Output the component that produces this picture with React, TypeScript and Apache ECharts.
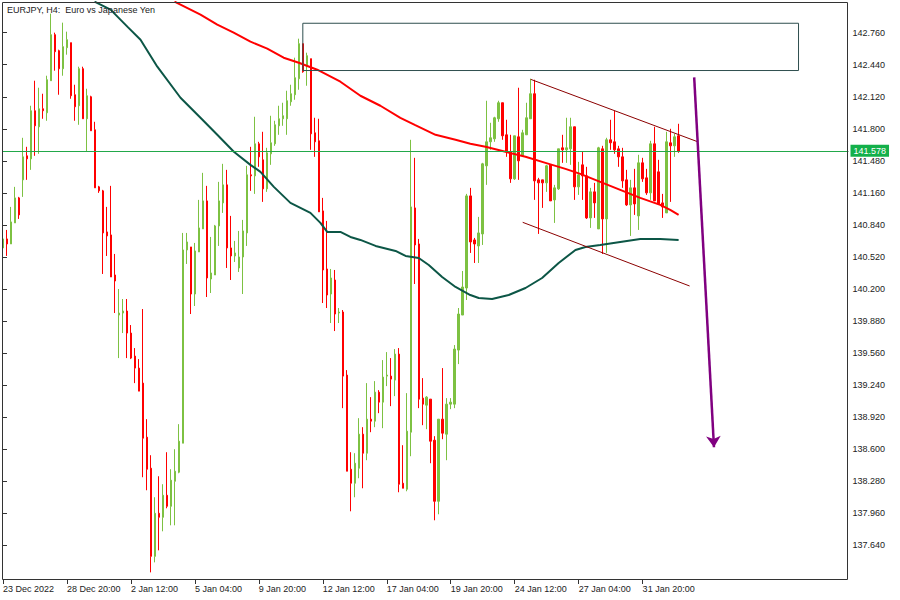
import React, { useEffect, useRef } from "react";
import * as echarts from "echarts";

// ---------- data ----------
const tickLabels = [
  "23 Dec 2022", "28 Dec 20:00", "2 Jan 12:00", "5 Jan 04:00", "9 Jan 20:00",
  "12 Jan 12:00", "17 Jan 04:00", "19 Jan 20:00", "24 Jan 12:00", "27 Jan 04:00", "31 Jan 20:00",
];
const LABEL_STEP = 16;
const SLOT_COUNT = 212;

const yTicks = [
  137.64, 137.96, 138.28, 138.6, 138.92, 139.24, 139.56, 139.88, 140.2,
  140.52, 140.84, 141.16, 141.48, 141.8, 142.12, 142.44, 142.76,
];
const Y_MIN = 137.3037;
const Y_MAX = 143.0663;

const opens = [
  140.61, 140.70, 140.65, 140.86, 141.11, 141.29, 141.53, 141.50, 141.98, 141.82,
  142.00, 141.96, 142.28, 142.74, 142.58, 142.40, 142.61, 142.66, 142.14, 142.03,
  142.40, 141.90, 142.12, 141.79, 141.22, 141.18, 140.77, 140.74, 140.34, 139.94,
  139.96, 139.98, 139.76, 139.53, 139.41, 139.26, 138.72, 138.41, 137.53, 137.96,
  137.92, 138.14, 138.03, 138.28, 138.37, 138.66, 140.59, 140.62, 140.15, 140.57,
  140.80, 141.08, 140.30, 140.34, 140.83, 141.06, 141.24, 140.61, 140.53, 140.41,
  140.52, 140.76, 141.34, 141.33, 141.65, 141.49, 141.20, 141.55, 141.65, 141.83,
  141.90, 141.90, 142.07, 142.14, 142.30, 142.65, 142.42, 142.50, 141.76, 141.68,
  140.98, 140.40, 140.15, 140.29, 139.96, 139.97, 139.34, 138.40, 138.26, 138.41,
  138.75, 138.56, 138.90, 138.88, 139.17, 139.07, 139.33, 139.33, 139.29, 139.55,
  138.26, 138.20, 138.77, 141.01, 140.65, 139.11, 139.04, 139.10, 138.69, 138.08,
  138.90, 138.75, 139.05, 139.05, 139.59, 139.94, 140.21, 141.13, 140.69, 140.63,
  140.75, 141.43, 141.67, 141.70, 141.90, 142.06, 141.74, 141.57, 141.30, 141.72,
  141.53, 141.74, 141.90, 142.15, 141.29, 141.29, 141.26, 141.44, 141.09, 141.20,
  141.61, 141.59, 141.60, 141.82, 141.22, 141.44, 141.33, 140.91, 141.17, 140.80,
  141.60, 140.90, 141.69, 141.67, 141.60, 141.52, 141.29, 141.04, 141.21, 140.93,
  141.46, 141.31, 141.16, 141.65, 141.37, 141.06, 140.96, 141.66, 141.63, 141.73,
];
const closes = [
  140.70, 140.65, 140.87, 141.11, 140.94, 141.52, 141.50, 141.98, 141.83, 142.00,
  141.98, 142.29, 142.74, 142.57, 142.40, 142.62, 142.69, 142.13, 142.02, 142.40,
  141.90, 142.13, 141.78, 141.21, 141.18, 140.76, 140.73, 140.32, 140.28, 139.96,
  139.98, 139.76, 139.51, 139.41, 139.18, 138.71, 138.40, 137.53, 137.96, 137.92,
  138.14, 138.03, 138.29, 138.38, 138.68, 140.59, 140.67, 140.15, 140.58, 140.81,
  141.08, 140.31, 140.36, 140.83, 141.08, 141.24, 140.61, 140.53, 140.56, 140.52,
  140.78, 141.34, 141.33, 141.65, 141.52, 141.20, 141.56, 141.66, 141.84, 141.90,
  141.93, 142.08, 142.15, 142.31, 142.65, 142.37, 142.53, 141.75, 141.67, 140.97,
  140.39, 140.14, 140.31, 139.95, 139.97, 139.33, 138.38, 138.26, 138.46, 138.75,
  138.56, 138.90, 138.88, 139.17, 139.07, 139.32, 139.34, 139.30, 139.55, 138.25,
  138.21, 138.78, 141.02, 140.64, 139.10, 139.05, 139.12, 138.68, 138.08, 138.90,
  138.76, 139.05, 139.07, 139.60, 139.95, 140.22, 141.13, 140.67, 140.65, 140.76,
  141.45, 141.67, 141.71, 141.91, 142.06, 141.73, 141.57, 141.30, 141.73, 141.48,
  141.76, 141.91, 142.15, 141.28, 141.26, 141.26, 141.43, 141.08, 141.21, 141.60,
  141.59, 141.61, 141.82, 141.22, 141.34, 141.33, 140.91, 141.17, 141.06, 141.61,
  140.90, 141.69, 141.66, 141.59, 141.52, 141.28, 141.04, 141.21, 141.05, 141.46,
  141.30, 141.16, 141.65, 141.08, 141.05, 141.02, 141.67, 141.63, 141.72, 141.578,
];
const lows = [
  140.60, 140.53, 140.65, 140.86, 140.90, 141.12, 141.29, 141.39, 141.53, 141.55,
  141.90, 141.88, 142.28, 142.38, 142.14, 142.33, 142.54, 142.10, 141.88, 141.84,
  141.90, 141.57, 141.78, 141.21, 141.16, 140.35, 140.53, 140.32, 139.96, 139.51,
  139.76, 139.51, 139.50, 139.26, 139.18, 138.32, 138.19, 137.37, 137.47, 137.59,
  137.78, 138.01, 137.84, 137.84, 138.36, 138.66, 140.45, 139.95, 140.03, 140.57,
  140.80, 140.12, 140.16, 140.34, 140.63, 140.96, 140.41, 140.29, 140.47, 140.37,
  140.15, 140.63, 141.18, 141.15, 141.42, 141.07, 141.17, 141.44, 141.63, 141.74,
  141.83, 141.74, 142.03, 142.09, 142.19, 142.36, 142.23, 141.59, 141.52, 140.97,
  140.06, 140.01, 139.86, 139.78, 139.86, 139.01, 138.38, 137.98, 138.12, 138.31,
  138.21, 138.49, 138.77, 138.82, 138.96, 138.81, 139.23, 139.03, 139.13, 138.17,
  138.21, 138.18, 138.53, 140.25, 139.01, 138.84, 138.80, 138.46, 137.89, 137.95,
  138.70, 138.49, 139.00, 139.01, 139.45, 139.94, 140.09, 140.56, 140.46, 140.46,
  140.64, 141.24, 141.59, 141.67, 141.87, 141.69, 141.52, 141.26, 141.29, 141.29,
  141.52, 141.74, 141.90, 141.09, 140.75, 141.01, 141.17, 141.08, 140.86, 141.19,
  141.46, 141.46, 141.44, 141.09, 141.14, 141.09, 140.90, 140.81, 140.91, 140.80,
  140.55, 140.56, 141.59, 141.55, 141.42, 141.21, 141.03, 140.73, 140.94, 140.79,
  141.27, 141.14, 141.09, 141.08, 141.04, 140.91, 140.96, 141.07, 141.52, 141.56,
];
const highs = [
  140.71, 140.79, 141.02, 141.22, 141.12, 141.71, 141.62, 142.03, 142.28, 142.21,
  142.15, 142.33, 142.95, 142.76, 142.59, 142.86, 142.77, 142.66, 142.24, 142.42,
  142.42, 142.20, 142.13, 141.87, 141.23, 141.19, 141.02, 141.23, 140.55, 140.20,
  140.10, 140.10, 139.84, 139.61, 139.50, 140.00, 138.90, 138.54, 138.12, 138.33,
  138.25, 138.57, 138.40, 138.60, 138.85, 140.76, 140.76, 140.62, 140.66, 141.09,
  141.36, 141.23, 140.72, 140.84, 141.27, 141.45, 141.39, 140.93, 140.68, 140.78,
  140.89, 141.43, 141.62, 141.92, 141.67, 141.77, 141.61, 141.93, 141.88, 142.03,
  142.06, 142.18, 142.24, 142.51, 142.70, 142.65, 142.56, 142.50, 141.91, 141.90,
  141.11, 140.88, 140.40, 140.39, 140.01, 139.99, 139.39, 138.57, 138.56, 138.91,
  138.82, 139.26, 139.12, 139.28, 139.19, 139.49, 139.57, 139.51, 139.60, 139.61,
  138.64, 139.16, 141.69, 141.51, 140.70, 139.31, 139.13, 139.10, 138.73, 138.90,
  139.41, 139.11, 139.11, 139.64, 140.01, 140.38, 141.15, 141.21, 140.71, 140.92,
  141.46, 142.08, 141.86, 141.92, 142.08, 142.06, 141.89, 141.74, 141.73, 142.21,
  141.79, 142.06, 142.30, 142.29, 141.31, 141.29, 141.44, 141.44, 141.24, 141.60,
  141.74, 141.91, 141.91, 141.82, 141.47, 141.57, 141.42, 141.21, 141.26, 141.62,
  141.63, 141.71, 141.89, 141.98, 141.63, 141.61, 141.39, 141.29, 141.40, 141.54,
  141.51, 141.40, 141.68, 141.82, 141.49, 141.15, 141.77, 141.80, 141.75, 141.85,
];

// moving averages: [bar index, price]
const redMA = [
  [42.9, 143.07], [49.4, 142.94], [53.6, 142.84], [57.7, 142.76], [61.9, 142.67],
  [66.1, 142.6], [70.2, 142.51], [74.0, 142.46], [78.6, 142.39], [84.4, 142.27],
  [89.4, 142.13], [94.4, 142.03], [99.4, 141.91], [103.0, 141.84], [108.2, 141.74],
  [113.2, 141.69], [116.9, 141.65], [120.7, 141.62], [125.7, 141.57], [130.7, 141.52],
  [135.7, 141.46], [140.7, 141.4], [144.4, 141.35], [149.4, 141.27], [154.4, 141.19],
  [159.4, 141.11], [164.4, 141.04], [166.9, 140.99], [169.0, 140.94],
];
const greenMA = [
  [22.9, 143.07], [26.9, 142.99], [31.1, 142.82], [34.4, 142.69], [38.6, 142.42],
  [44.4, 142.11], [49.4, 141.91], [53.6, 141.74], [57.75, 141.57], [61.9, 141.44],
  [64.4, 141.37], [67.75, 141.22], [71.9, 141.06], [74.4, 141.01], [76.9, 140.96],
  [79.4, 140.86], [81.1, 140.77], [84.4, 140.77], [86.9, 140.72], [89.4, 140.69],
  [93.2, 140.63], [98.2, 140.58], [100.7, 140.53], [104.0, 140.51], [106.5, 140.44],
  [109.85, 140.32], [113.2, 140.22], [116.9, 140.14], [119.0, 140.11], [122.35, 140.1],
  [126.5, 140.14], [130.7, 140.21], [134.85, 140.31], [139.0, 140.46], [143.2, 140.59],
  [145.7, 140.62], [149.4, 140.64], [154.4, 140.67], [159.4, 140.7], [164.4, 140.7],
  [169.0, 140.69],
];

const channelUpper = [[132, 142.294], [173.75, 141.671]];
const channelLower = [[130, 140.866], [171.75, 140.23]];
const zoneBox = [[75, 142.854], [199, 142.854], [199, 142.382], [75, 142.382], [75, 142.854]];
const arrowFrom = [172.9, 142.314];
const arrowTo = [177.85, 138.62];
const currentPrice = 141.578;
const titleText = "EURJPY, H4:  Euro vs Japanese Yen";

const FONT = "'Liberation Sans', Arial, sans-serif";

export default function App() {
  const ref = useRef<HTMLDivElement>(null);

  useEffect(() => {
    if (!ref.current) return;
    const chart = echarts.init(ref.current, null, { renderer: "svg" });

    const categories = Array.from({ length: SLOT_COUNT }, (_, i) => String(i));
    const candles = opens.map((o, i) => [o, closes[i], lows[i], highs[i]]);

    const option: any = {
      animation: false,
      backgroundColor: "#ffffff",
      textStyle: { fontFamily: FONT },
      grid: { left: 0.5, top: 2, width: 848, height: 577, containLabel: false },
      xAxis: [
        {
          type: "category",
          data: categories,
          boundaryGap: true,
          axisLine: { show: false },
          axisTick: {
            show: true,
            alignWithLabel: true,
            length: 5,
            interval: (i: number) => i % LABEL_STEP === 0 && i / LABEL_STEP < tickLabels.length,
            lineStyle: { color: "#333" },
          },
          axisLabel: {
            interval: 0,
            align: "left",
            margin: 5,
            fontSize: 9,
            color: "#222",
            fontFamily: FONT,
            formatter: (_v: string, i: number) =>
              i % LABEL_STEP === 0 ? tickLabels[i / LABEL_STEP] ?? "" : "",
          },
          splitLine: { show: false },
        },
        {
          type: "value",
          min: -0.5,
          max: SLOT_COUNT - 0.5,
          show: false,
          splitLine: { show: false },
        },
      ],
      yAxis: {
        type: "value",
        position: "right",
        offset: -1,
        min: Y_MIN,
        max: Y_MAX,
        scale: true,
        axisLine: { show: false },
        axisTick: {
          show: true,
          length: 4,
          customValues: yTicks,
          lineStyle: { color: "#333" },
        },
        axisLabel: {
          customValues: yTicks,
          margin: 5,
          fontSize: 9,
          color: "#222",
          fontFamily: FONT,
          formatter: (v: number) => v.toFixed(3),
        },
        splitLine: { show: false },
      },
      graphic: [
        {
          type: "rect",
          z: 100,
          shape: { x: 0, y: 0, width: 2, height: 600 },
          style: { fill: "#ffffff" },
        },
        {
          type: "rect",
          z: 101,
          shape: { x: 2.5, y: 2.5, width: 845, height: 577 },
          style: { fill: "none", stroke: "#333333", lineWidth: 1 },
        },
        {
          type: "text",
          z: 102,
          x: 7,
          y: 5,
          style: { text: titleText, fontSize: 9, fill: "#222", fontFamily: FONT },
        },
      ],
      series: [
        {
          type: "candlestick",
          xAxisIndex: 0,
          yAxisIndex: 0,
          data: candles,
          barWidth: 2,
          itemStyle: {
            color: "#7dc142",
            color0: "#ff0000",
            borderColor: "#7dc142",
            borderColor0: "#ff0000",
            borderWidth: 1,
          },
          markLine: {
            silent: true,
            symbol: ["none", "none"],
            data: [{ yAxis: currentPrice }],
            lineStyle: { color: "#22a84a", width: 1, type: "solid" },
            label: {
              show: true,
              position: "end",
              distance: 2,
              formatter: currentPrice.toFixed(3),
              color: "#ffffff",
              backgroundColor: "#13b04a",
              padding: [2, 3, 1, 3],
              fontSize: 9,
              fontFamily: FONT,
            },
          },
        },
        {
          type: "line",
          xAxisIndex: 1,
          data: greenMA,
          showSymbol: false,
          lineStyle: { color: "#0c5646", width: 2 },
          z: 3,
        },
        {
          type: "line",
          xAxisIndex: 1,
          data: redMA,
          showSymbol: false,
          lineStyle: { color: "#ff0000", width: 2 },
          z: 3,
        },
        {
          type: "line",
          xAxisIndex: 1,
          data: channelUpper,
          showSymbol: false,
          lineStyle: { color: "#8b0000", width: 1 },
          z: 4,
        },
        {
          type: "line",
          xAxisIndex: 1,
          data: channelLower,
          showSymbol: false,
          lineStyle: { color: "#8b0000", width: 1 },
          z: 4,
        },
        {
          type: "line",
          xAxisIndex: 1,
          data: zoneBox,
          showSymbol: false,
          lineStyle: { color: "#2f4f4f", width: 1 },
          z: 4,
          markLine: {
            silent: true,
            symbol: ["none", "arrow"],
            symbolSize: 11,
            label: { show: false },
            lineStyle: { color: "#800080", width: 2.5, type: "solid" },
            data: [[{ coord: arrowFrom }, { coord: arrowTo }]],
          },
        },
      ],
    };

    chart.setOption(option);
    return () => chart.dispose();
  }, []);

  return (
    <div
      ref={ref}
      style={{ position: "fixed", left: 0, top: 0, width: 900, height: 600, background: "#fff" }}
    />
  );
}
